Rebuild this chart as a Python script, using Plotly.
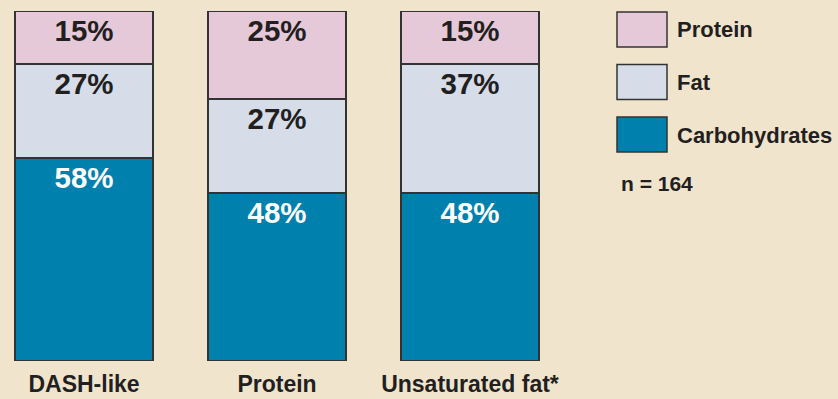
import plotly.graph_objects as go

categories = ["DASH-like", "Protein", "Unsaturated fat*"]
carbohydrates = [58, 48, 48]
fat = [27, 27, 37]
protein = [15, 25, 15]
legend_labels = ["Protein", "Fat", "Carbohydrates"]
note = "n = 164"

W, H = 838, 399
ML, MR, MT, MB = 0, 238, 11, 38
PW, PH = W - ML - MR, H - MT - MB

BG = "#f0e4cd"
C_CARB = "#0080ad"
C_FAT = "#d6dde9"
C_PROT = "#e6c9d8"
EDGE = "#333333"
TXT = "#231f20"
FONT = "Liberation Sans, Arial"

fig = go.Figure()
series = [("Carbohydrates", carbohydrates, C_CARB, "white"),
          ("Fat", fat, C_FAT, TXT),
          ("Protein", protein, C_PROT, TXT)]
for name, vals, col, tcol in series:
    fig.add_trace(go.Bar(
        x=categories, y=vals, name=name,
        marker=dict(color=col, line=dict(color=EDGE, width=2)),
        width=0.715,
        text=[f"<b>{v}%</b>" for v in vals],
        textposition="inside", insidetextanchor="end",
        textfont=dict(family=FONT, size=29.5, color=tcol),
        constraintext="none",
        showlegend=False,
    ))

def px_x(p):
    return (p - ML) / PW

def px_y(p):
    return (H - MB - p) / PH

shapes = []
annotations = []
colors = {"Protein": C_PROT, "Fat": C_FAT, "Carbohydrates": C_CARB}
for i, lab in enumerate(legend_labels):
    y0 = 12 + i * 52.5
    shapes.append(dict(type="rect", xref="paper", yref="paper",
                       x0=px_x(617), x1=px_x(667), y0=px_y(y0 + 35), y1=px_y(y0),
                       fillcolor=colors[lab], line=dict(color=EDGE, width=1.5)))
    annotations.append(dict(text=f"<b>{lab}</b>", xref="paper", yref="paper",
                            x=px_x(675), y=px_y(y0 + 18), xanchor="left", yanchor="middle",
                            showarrow=False, font=dict(family=FONT, size=22, color=TXT)))
annotations.append(dict(text=f"<b>{note}</b>", xref="paper", yref="paper",
                        x=px_x(619), y=px_y(183), xanchor="left", yanchor="middle",
                        showarrow=False, font=dict(family=FONT, size=21, color=TXT)))

fig.update_layout(
    barmode="stack", bargap=0,
    width=W, height=H,
    margin=dict(l=ML, r=MR, t=MT, b=MB, pad=0),
    paper_bgcolor=BG, plot_bgcolor=BG,
    xaxis=dict(range=[-84 / 193, (PW - 84) / 193], showgrid=False, zeroline=False,
               showline=False, ticks="", tickfont=dict(family=FONT, size=23, color=TXT),
               tickvals=categories, ticktext=[f"<b>{c}</b>" for c in categories],
               ticklabelstandoff=7),
    yaxis=dict(range=[0, 100], visible=False),
    shapes=shapes, annotations=annotations,
    uniformtext=dict(mode=False),
)
fig.write_html("out.html")
